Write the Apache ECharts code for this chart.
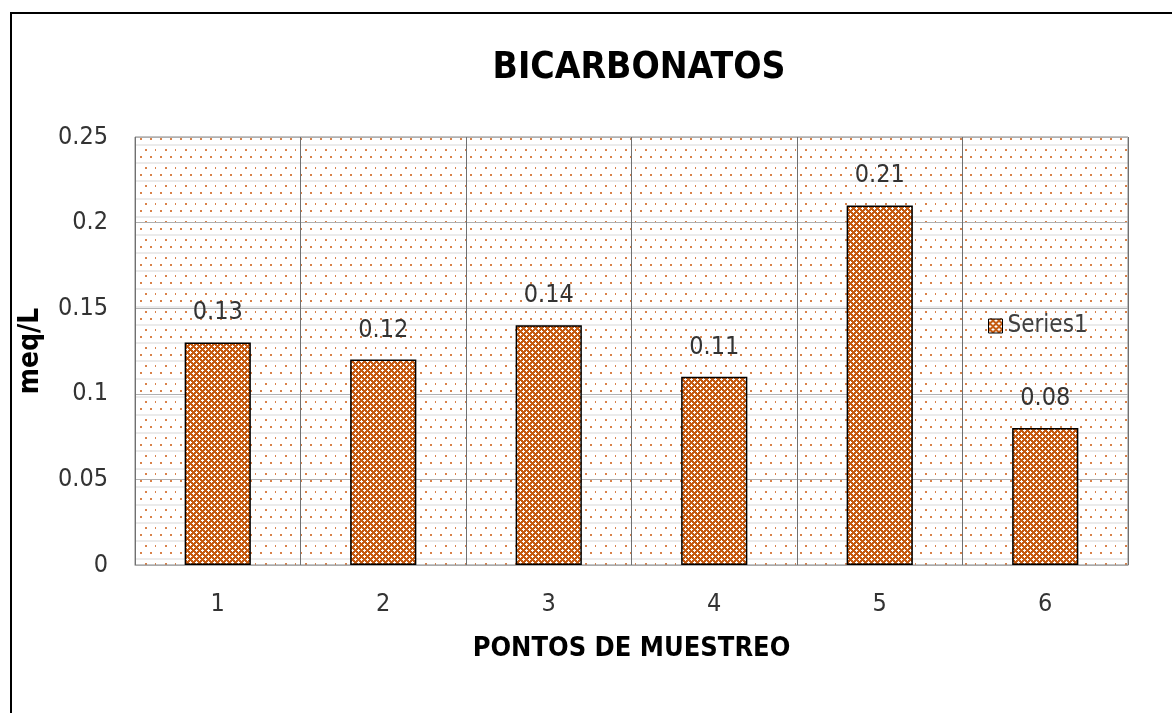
<!DOCTYPE html>
<html><head><meta charset="utf-8">
<script src="https://cdn.jsdelivr.net/npm/echarts@6/dist/echarts.min.js"></script>
<style>html,body{margin:0;padding:0;background:#fff}#c{width:1172px;height:713px}</style>
</head><body><div id="c"></div>
<script>
const categories = ['1','2','3','4','5','6'];
const values = [0.13, 0.12, 0.14, 0.11, 0.21, 0.08];
const yTicks = [0, 0.05, 0.1, 0.15, 0.2, 0.25];
const seriesName = 'Series1';

const FONT = "'Liberation Sans Narrow','DejaVu Sans Condensed',sans-serif";

function barPattern(){
  const c = document.createElement('canvas'); c.width = 6; c.height = 6;
  const g = c.getContext('2d');
  g.fillStyle = '#C55A11'; g.fillRect(0,0,6,6);
  g.fillStyle = '#ffffff';
  [[1,0],[0,1],[1,1],[2,1],[1,2],[4,3],[3,4],[4,4],[5,4],[4,5]].forEach(p => g.fillRect(p[0],p[1],1,1));
  return c;
}
function bgPattern(){
  const c = document.createElement('canvas'); c.width = 20; c.height = 18;
  const g = c.getContext('2d');
  g.fillStyle = '#ffffff'; g.fillRect(0,0,20,18);
  g.fillStyle = '#ebebeb'; g.fillRect(0,0,20,2);
  g.fillStyle = '#D9824A';
  g.fillRect(5,5,2,2); g.fillRect(15,5,1,2);
  g.fillRect(0,12,2,2); g.fillRect(10,12,2,2);
  return c;
}

const chart = echarts.init(document.getElementById('c'));
chart.setOption({
  animation: false,
  backgroundColor: '#fff',
  graphic: [{type:'rect', shape:{x:11,y:13,width:1200,height:800}, style:{fill:'none', stroke:'#000', lineWidth:2}, z:100}],
  title: {text:'BICARBONATOS', left:634, textAlign:'center', top:45,
    textStyle:{fontFamily:FONT, fontSize:37, fontWeight:'bold', color:'#000'}},
  legend: {data:[seriesName], left:983, top:309, itemWidth:14, itemHeight:14, itemGap:4, icon:'rect',
    textStyle:{fontFamily:FONT, fontSize:24, color:'#404040'},
    itemStyle:{borderColor:'#000', borderWidth:1}},
  grid: {left:135, right:44, top:137, bottom:148, show:true,
    backgroundColor:{image:bgPattern(), repeat:'repeat'}, borderColor:'#888', borderWidth:1},
  xAxis: {type:'category', data:categories,
    name:'PONTOS DE MUESTREO', nameLocation:'middle', nameGap:70,
    nameTextStyle:{fontFamily:FONT, fontSize:27, fontWeight:'bold', color:'#000'},
    axisLine:{show:true, lineStyle:{color:'#aaa'}}, axisTick:{show:false},
    axisLabel:{fontFamily:FONT, fontSize:25, color:'#333', margin:27},
    splitLine:{show:true, lineStyle:{color:'#707070', width:1}}},
  yAxis: {type:'value', min:0, max:0.25, interval:0.05,
    name:'meq/L', nameLocation:'middle', nameGap:90,
    nameTextStyle:{fontFamily:FONT, fontSize:28, fontWeight:'bold', color:'#000'},
    axisLine:{show:false}, axisTick:{show:false},
    axisLabel:{fontFamily:FONT, fontSize:25, color:'#333', margin:27,
      formatter: v => { const t = yTicks.find(x => Math.abs(x - v) < 1e-9); return String(t !== undefined ? t : v); }},
    splitLine:{show:true, lineStyle:{color:'#b0b0b0', width:1}}},
  series: [{name:seriesName, type:'bar', data:values, barWidth:'40%',
    itemStyle:{color:{image:barPattern(), repeat:'repeat'}, borderColor:'#000', borderWidth:1.5},
    label:{show:true, position:'top', distance:17, fontFamily:FONT, fontSize:25, color:'#333'}}]
});
</script></body></html>
